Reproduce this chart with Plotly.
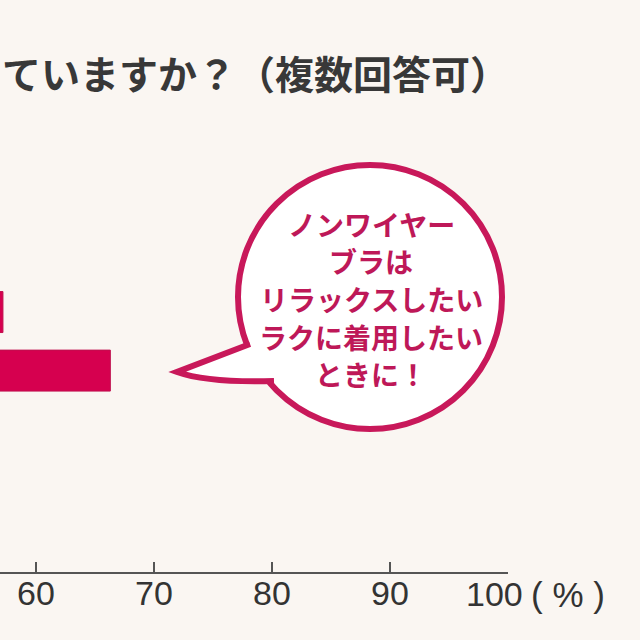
import plotly.graph_objects as go

# data
categories = ["その他", "ノンワイヤーブラ"]
values = [57.2, 66.3]
tick_vals = [60, 70, 80, 90, 100]
tick_text = ["60", "70", "80", "90", ""]  # 100 is drawn with the unit below
title_text = "ていますか？（複数回答可）"
bubble_lines = ["ノンワイヤー", "ブラは", "リラックスしたい", "ラクに着用したい", "ときに！"]

BG = "#faf6f2"
PINK = "#d6004f"
BUBBLE = "#c8185a"
JP = "Noto Sans CJK JP"
NUM = "Liberation Sans"

# plot area is 508 x 572 px (margins l=0, t=0)
PW, PH = 508, 572


def px(x, y):
    return x / PW, 1 - y / PH


fig = go.Figure()
fig.add_trace(go.Bar(
    x=values[::-1],
    y=categories[::-1],
    orientation="h",
    width=0.7,
    marker=dict(color=PINK, line=dict(color="#c0104f", width=1)),
    hoverinfo="x",
))

# speech bubble
cx0, cy0 = px(238, 165)
cx1, cy1 = px(502, 429)
fig.add_shape(type="circle", xref="paper", yref="paper",
              x0=cx0, x1=cx1, y0=cy1, y1=cy0,
              fillcolor="white", line=dict(color=BUBBLE, width=6))
b1 = px(250, 344)
tip = px(177, 372)
ctl = px(208, 383)
b2 = px(274, 381)
fig.add_shape(type="path", xref="paper", yref="paper",
              path=f"M {b1[0]} {b1[1]} L {tip[0]} {tip[1]} "
                   f"Q {ctl[0]} {ctl[1]} {b2[0]} {b2[1]}",
              fillcolor="white", line=dict(color=BUBBLE, width=6))

for i, line in enumerate(bubble_lines):
    ax, ay = px(371, 223.5 + i * 37.7)
    fig.add_annotation(xref="paper", yref="paper", x=ax, y=ay,
                       text=f"<b>{line}</b>", showarrow=False,
                       xanchor="center", yanchor="middle",
                       font=dict(family=JP, size=28, color="#be1858"))

tx, ty = px(0, 72)
fig.add_annotation(xref="paper", yref="paper", x=tx, y=ty,
                   text=f"<b>{title_text}</b>", showarrow=False,
                   xanchor="left", yanchor="middle",
                   font=dict(family=JP, size=39, color="#383838"))

hx, hy = px(494, 594)
fig.add_annotation(xref="paper", yref="paper", x=hx, y=hy,
                   text=str(tick_vals[-1]), showarrow=False,
                   xanchor="center", yanchor="middle",
                   font=dict(family=NUM, size=34, color="#333333"))
ux, uy = px(568, 594)
fig.add_annotation(xref="paper", yref="paper", x=ux, y=uy,
                   text="( % )", showarrow=False,
                   xanchor="center", yanchor="middle",
                   font=dict(family=NUM, size=35, color="#333333"))

fig.update_layout(
    width=640, height=640,
    margin=dict(l=0, r=132, t=0, b=68),
    paper_bgcolor=BG,
    plot_bgcolor=BG,
    showlegend=False,
    xaxis=dict(
        range=[56.95, 100],
        tickvals=tick_vals, ticktext=tick_text,
        ticks="inside", ticklen=10, tickwidth=1.5, tickcolor="#555555",
        ticklabelstandoff=-10,
        showline=True, linecolor="#555555", linewidth=1.5,
        showgrid=False, zeroline=False,
        tickfont=dict(family=NUM, size=34, color="#333333"),
    ),
    yaxis=dict(
        type="category",
        categoryorder="array", categoryarray=categories[::-1],
        range=[-3.44, 6.33],
        showticklabels=False, showgrid=False, zeroline=False,
        showline=False, ticks="",
    ),
)

fig.write_html("out.html", config={"displayModeBar": False},
               post_script="document.body.style.margin='0';")
